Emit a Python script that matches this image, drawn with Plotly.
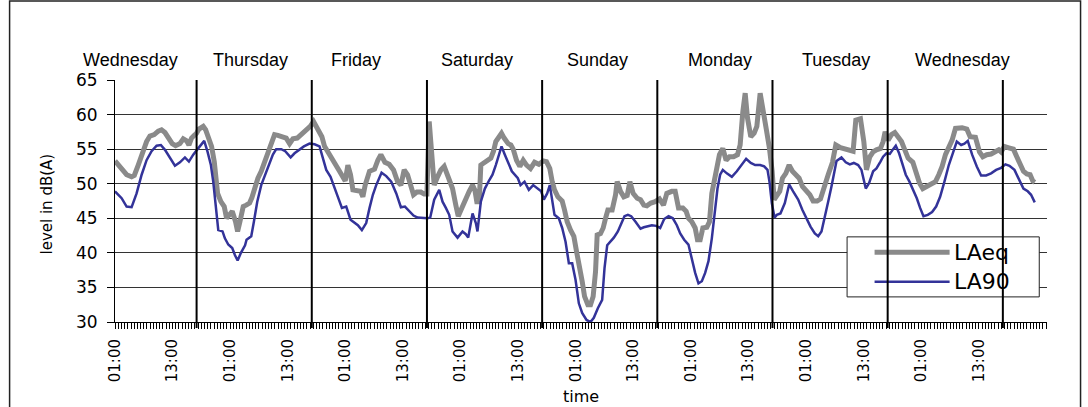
import plotly.graph_objects as go

# ---------------- data (hours since Wednesday 01:00, level in dB(A)) ----------------
laeq_hours = [
    0, 1.38, 2.42, 3.46, 4.02, 4.84, 5.89, 6.58, 7.27, 8.18, 9.01, 9.70, 10.41, 11.10, 11.92, 12.63, 13.53,
    14.22, 14.92, 15.40, 15.95, 16.52, 17.00, 17.49, 18.38, 18.88, 19.43, 20.12, 20.68, 21.38, 22.07, 22.76,
    23.25, 23.95, 24.43, 25.12, 25.55, 26.03, 26.72,
    27.34, 28.04, 28.53, 29.08, 29.78, 30.47, 31.16, 32.01, 32.70, 33.25, 33.94, 34.99, 35.68, 36.38, 37.07,
    37.97, 38.67, 39.36, 40.19, 40.68, 41.37, 41.92, 42.62, 43.11, 43.66, 44.36, 45.20, 46.10, 46.79, 47.49,
    47.97, 48.52, 49.08, 49.57, 50.47, 51.16, 51.65, 52.13, 53.03, 54.08, 54.77,
    55.40, 56.24, 57.14, 58.04, 58.88, 59.57, 60.26, 60.96, 61.65, 62.20, 62.90, 63.73, 64.43, 64.99, 65.47,
    65.96, 66.51, 67.21, 67.90, 68.59, 69.64, 70.33, 71.02, 71.52, 72.41, 73.10, 73.81, 74.50, 74.98, 75.39,
    75.89, 76.23, 76.93, 77.62, 78.32, 78.87, 79.35, 80.05, 80.54, 81.09, 81.92, 82.48,
    82.97, 83.66, 84.35, 85.06, 85.75, 86.58, 87.42, 88.32, 89.23, 89.91, 90.60, 91.10, 91.58, 92.28, 93.18,
    93.67, 94.22, 94.91, 95.61, 96.17, 96.86, 97.34, 97.84, 98.53, 99.08, 99.63, 100.13, 100.47, 101.16,
    101.72, 102.21, 102.70, 103.59, 104.30, 104.64, 105.33, 106.02, 106.73, 107.28, 107.97, 108.81, 109.50,
    110.19,
    110.82, 111.65, 112.55, 113.46, 114.29, 114.98, 116.03, 116.72, 117.42, 118.32, 119.01, 119.49, 120.19,
    120.89, 121.37, 121.93, 122.49, 123.32, 123.87, 124.36, 124.85, 125.40, 125.95, 126.65, 127.34, 128.04,
    128.88, 129.71, 130.26, 130.82, 131.31, 131.79, 132.48, 133.18, 133.74, 134.43, 134.99, 135.68, 136.37,
    136.93, 137.35, 137.90,
    138.52, 139.08, 139.78, 140.47, 141.16, 141.86, 142.55, 143.24, 144.08, 144.78, 145.47, 146.31, 147.00,
    147.69, 148.60, 149.50, 150.19, 151.17, 152.07, 153.11, 153.80, 154.36, 155.33, 156.03, 156.58, 157.28,
    157.97, 158.66, 159.50, 160.05, 160.47, 161.09, 161.79, 162.49, 163.18, 163.88, 164.57, 165.26,
    166.24, 166.93, 167.63, 168.32, 169.15, 170.05, 170.96, 171.65, 172.35, 173.04, 173.74, 174.43, 175.13,
    175.82, 176.51, 177.49, 178.18, 179.29, 180.13, 180.82, 181.65, 182.55, 183.46, 184.15, 184.63, 185.33,
    186.24, 187.21, 187.90, 188.60, 189.29, 189.99, 190.68, 191.24, 191.65,
]
laeq_db = [
    53.3, 52.0, 51.3, 51.0, 51.2, 52.7, 54.9, 56.1, 56.9, 57.1, 57.6, 57.8, 57.4, 56.8, 55.8, 55.5, 55.8,
    56.5, 56.2, 55.6, 56.6, 57.0, 57.3, 57.9, 58.3, 57.8, 56.8, 55.4, 53.2, 48.6, 47.4, 46.7,
    45.0, 45.6, 46.0, 44.5, 43.1, 44.5, 46.7,
    46.9, 47.2, 48.0, 49.3, 50.8, 51.8, 53.1, 54.6, 56.1, 57.1, 57.0, 56.8, 56.6, 55.8, 56.5,
    56.6, 57.0, 57.5, 57.9, 58.3, 59.0, 58.3, 57.6, 56.8, 55.4, 54.5, 53.4, 52.6, 51.8, 51.0,
    50.4, 52.7, 51.3, 49.1, 49.0, 48.9, 48.1, 49.8, 51.8, 52.1, 53.4,
    54.2, 53.1, 52.8, 52.0, 50.3, 49.8, 52.0, 51.3, 49.8, 48.4, 48.8, 48.8, 48.5, 48.5, 59.0,
    55.4, 49.8, 51.0, 52.0, 52.5, 50.8, 49.3, 46.9, 45.3, 46.7, 47.9, 48.9, 49.8, 49.1, 47.4,
    47.4, 52.7, 53.1, 53.3, 53.7, 54.7, 56.1, 56.8, 57.3, 56.6, 55.8, 55.6,
    55.0, 53.4, 52.5, 53.4, 52.7, 52.2, 53.1, 52.8, 53.3, 53.2, 52.2, 50.3, 49.1, 48.1, 47.5,
    46.2, 44.5, 43.3, 42.4, 40.2, 38.0, 35.9, 33.7, 32.5, 32.5, 33.7, 37.3, 42.6, 42.8,
    43.6, 45.0, 46.2, 46.2, 48.4, 50.3, 48.9, 48.1, 48.3, 50.3, 48.6, 47.9, 47.7,
    46.9,
    46.8, 47.2, 47.4, 47.8, 46.9, 48.6, 48.9, 48.9, 46.5, 46.5, 46.0, 45.0, 44.5,
    43.6, 41.9, 41.9, 43.6, 43.7, 44.5, 48.6, 50.3, 52.7, 54.2, 55.1, 53.4, 53.9,
    53.9, 54.2, 55.6, 60.4, 63.1, 59.5, 56.8, 57.3, 58.3, 63.1, 61.1, 58.0, 55.1,
    51.8, 47.7, 48.4,
    48.9, 50.8, 51.5, 52.7, 51.8, 51.3, 50.8, 49.6, 49.0, 48.4, 47.5, 47.5, 47.8,
    49.1, 51.3, 53.1, 55.6, 55.2, 55.0, 54.9, 54.7, 59.2, 59.4, 56.1, 52.0, 53.9,
    54.6, 54.9, 55.1, 56.1, 57.5, 56.3, 57.1, 57.4, 56.8, 56.1, 54.9, 53.7,
    53.1, 51.5, 50.1, 49.3, 49.6, 49.8, 50.3, 51.3, 52.5, 54.2, 55.4, 56.3, 58.0,
    58.0, 58.1, 57.9, 56.8, 56.7, 54.6, 53.9, 54.2, 54.3, 54.6, 54.9, 54.6, 55.4,
    55.2, 55.0, 53.9, 52.6, 51.8, 51.4, 51.3, 50.4, 50.2,
]

la90_hours = [
    0, 1.38, 2.42, 3.46, 4.50, 5.55, 6.58, 7.62, 8.67, 9.56, 10.41, 11.44, 12.49, 13.53, 14.57, 15.40, 16.30,
    17.21, 18.04, 18.59, 19.29, 19.98, 20.47, 20.96, 21.52, 22.41, 22.90, 23.60, 24.43, 24.98, 25.55, 26.24,
    27.10, 27.41,
    28.39, 28.94, 29.64, 30.47, 31.30, 32.21, 32.90, 33.59, 34.64, 35.47, 36.60, 37.41, 38.46, 39.36, 40.54,
    41.58, 42.62, 43.32, 44.02, 44.91, 45.61, 46.44, 47.28, 48.18, 49.08, 49.91, 50.60, 51.44, 52.34, 53.04,
    53.73, 54.43, 55.12,
    55.54, 56.52, 57.56, 58.61, 59.57, 60.41, 61.31, 62.20, 63.04, 64.08, 65.13, 65.68, 66.51, 67.56, 68.25,
    68.94, 69.64, 70.33, 71.38, 72.41, 73.10, 73.60, 74.50, 75.19, 75.53, 76.23, 77.07, 77.97, 78.66, 79.35,
    79.84, 80.54, 81.23, 81.92, 82.69,
    83.94, 84.50, 85.33, 86.23, 87.14, 87.97, 88.80, 89.36, 90.05, 90.60, 91.10, 91.58, 92.48, 93.18, 93.88,
    94.57, 95.26, 95.96, 96.65, 97.34, 98.25, 99.08, 99.77, 100.61, 101.51, 102.00, 102.56, 103.25, 103.94,
    104.78, 105.47, 106.16, 106.87, 107.56, 108.46, 109.50, 110.19,
    110.96, 111.86, 112.76, 113.60, 114.43, 115.34, 116.24, 117.07, 117.77, 118.60, 119.49, 120.19, 120.89,
    121.58, 122.28, 122.97, 123.66, 124.36, 125.05, 125.54, 126.09, 126.65, 127.48, 128.53, 129.57, 130.62,
    131.51, 132.48, 133.39, 134.43, 135.27, 135.96, 136.37, 136.86, 137.42, 137.90,
    138.66, 139.57, 140.47, 141.30, 142.35, 143.24, 144.08, 144.92, 145.82, 146.52, 147.21, 147.90, 148.60,
    149.29, 149.78, 150.34, 151.37, 152.27, 153.11, 153.94, 154.85, 155.54, 156.44, 157.14, 157.97, 158.66,
    159.50, 160.05, 160.74, 161.45, 162.14, 162.69, 163.38, 164.08, 164.77,
    165.54, 166.24, 167.07, 167.76, 168.46, 169.36, 170.26, 171.10, 171.93, 172.83, 173.74, 174.57, 175.40,
    176.31, 177.00, 177.69, 178.60, 179.57, 180.47, 181.51, 182.55, 183.60, 184.64, 185.54, 186.38, 187.42,
    188.32, 189.29, 190.19, 190.88, 191.65,
]
la90_db = [
    48.9, 47.9, 46.7, 46.6, 48.6, 51.3, 53.4, 54.7, 55.5, 55.6, 54.9, 53.7, 52.6, 53.1, 53.8, 53.2, 54.2,
    55.0, 55.8, 56.2, 54.6, 52.7, 50.3, 46.5, 43.3, 43.1, 42.1, 41.2, 40.7, 39.7, 38.9, 40.0,
    41.1, 41.9,
    42.4, 44.5, 47.4, 49.8, 51.3, 52.8, 54.2, 55.0, 55.0, 54.7, 53.8, 54.4, 54.9, 55.4, 55.8,
    55.7, 55.4, 53.7, 52.0, 51.0, 49.8, 48.1, 46.5, 46.7, 44.8, 44.3, 44.0, 43.3, 44.3, 46.5,
    48.4, 49.8, 51.0,
    51.6, 51.1, 50.3, 48.6, 46.6, 46.7, 46.0, 45.4, 45.1, 45.0, 45.0, 45.1, 47.7, 49.1, 47.4,
    46.5, 45.5, 43.1, 42.2, 43.1, 42.7, 42.2, 45.7, 44.3, 43.1, 47.4, 49.3, 50.5, 51.3, 52.7,
    53.9, 55.4, 54.2, 53.0, 51.8,
    50.8, 49.8, 50.3, 49.1, 49.8, 49.3, 48.9, 47.7, 48.6, 49.8, 47.7, 45.5, 45.0, 43.6, 41.6,
    38.5, 38.5, 36.1, 32.7, 31.3, 30.3, 30.0, 30.6, 32.0, 33.2, 37.8, 41.1, 41.6, 42.2,
    43.1, 44.1, 45.3, 45.5, 45.3, 44.5, 43.5, 43.7,
    43.8, 44.0, 43.9, 43.6, 44.9, 45.3, 45.0, 44.0, 42.8, 41.9, 41.2, 39.0, 37.1,
    35.6, 35.9, 37.1, 38.8, 42.1, 46.5, 49.3, 51.3, 52.0, 51.5, 51.0, 51.8, 52.7,
    53.6, 53.0, 52.7, 52.7, 52.5, 52.0, 50.3, 47.2, 45.1, 45.5,
    45.7, 47.2, 49.9, 48.9, 47.7, 46.2, 45.0, 43.8, 42.8, 42.4, 43.1, 45.5, 47.4,
    49.6, 51.3, 53.3, 53.8, 53.1, 52.8, 53.0, 52.7, 52.0, 49.3, 50.1, 51.8, 52.2,
    53.2, 53.9, 54.4, 54.3, 55.0, 55.5, 54.4, 53.0, 51.3,
    50.3, 49.3, 47.9, 46.5, 45.3, 45.5, 45.9, 46.7, 48.1, 50.3, 52.7, 54.4, 56.1,
    55.6, 55.8, 56.2, 54.2, 52.5, 51.2, 51.2, 51.5, 52.0, 52.3, 52.8, 52.6, 52.0,
    50.7, 49.3, 48.9, 48.4, 47.3,
]

assert len(laeq_hours) == len(laeq_db)
assert len(la90_hours) == len(la90_db)

tick_hours = [0, 12, 24, 36, 48, 60, 72, 84, 96, 108, 120, 132, 144, 156, 168, 180]
tick_text = ["01:00", "13:00"] * 8

day_names = ["Wednesday", "Thursday", "Friday", "Saturday", "Sunday", "Monday", "Tuesday", "Wednesday"]
day_label_hours = [3.3, 28.3, 50.3, 75.4, 100.6, 126.1, 150.2, 176.5]
day_boundary_hours = [17, 41, 65, 89, 113, 137, 161, 185]

series_names = ["LAeq", "LA90"]
series_colors = ["#8a8a8a", "#333399"]
series_widths = [5, 2.5]

# ---------------- figure ----------------
fig = go.Figure()
fig.add_trace(go.Scatter(x=laeq_hours, y=laeq_db, mode="lines", name=series_names[0],
                         line=dict(color=series_colors[0], width=series_widths[0]),
                         showlegend=False))
fig.add_trace(go.Scatter(x=la90_hours, y=la90_db, mode="lines", name=series_names[1],
                         line=dict(color=series_colors[1], width=series_widths[1]),
                         showlegend=False))

shapes = []
# outer chart frame
shapes.append(dict(type="rect", xref="paper", yref="paper", x0=-0.1131, x1=1.036, y0=-0.36, y1=1.326,
                   line=dict(color="#222", width=1.5), layer="below"))
# legend box (drawn manually so the day separators cross it as in the original)
leg_x0, leg_x1, leg_y0, leg_y1 = 0.7855, 0.9917, 0.1037, 0.3518
shapes.append(dict(type="rect", xref="paper", yref="paper", x0=leg_x0, x1=leg_x1, y0=leg_y0, y1=leg_y1,
                   line=dict(color="#222", width=1), fillcolor="white", layer="above"))
legend_rows_y = [0.2885, 0.1660]
for name, color, w, yy in zip(series_names, series_colors, series_widths, legend_rows_y):
    shapes.append(dict(type="line", xref="paper", yref="paper", x0=0.815, x1=0.8955, y0=yy, y1=yy,
                       line=dict(color=color, width=w), layer="above"))
# day separators
for h in day_boundary_hours:
    shapes.append(dict(type="line", xref="x", yref="paper", x0=h, x1=h, y0=-0.025, y1=1,
                       line=dict(color="black", width=2), layer="above"))

annotations = []
for name, h in zip(day_names, day_label_hours):
    annotations.append(dict(x=h, y=1.083, xref="x", yref="paper", text=name, showarrow=False,
                            xanchor="center", yanchor="middle",
                            font=dict(family="Liberation Sans", size=18, color="black")))
for name, yy in zip(series_names, legend_rows_y):
    annotations.append(dict(x=0.8985, y=yy, xref="paper", yref="paper", text=name, showarrow=False,
                            xanchor="left", yanchor="middle",
                            font=dict(family="DejaVu Sans", size=22, color="black")))
annotations.append(dict(x=-0.0734, y=0.488, xref="paper", yref="paper", text="level in dB(A)",
                        showarrow=False, textangle=-90, xanchor="center", yanchor="middle",
                        font=dict(family="DejaVu Sans", size=15, color="black")))
annotations.append(dict(x=0.4999, y=-0.309, xref="paper", yref="paper", text="time",
                        showarrow=False, xanchor="center", yanchor="middle",
                        font=dict(family="DejaVu Sans", size=16, color="black")))

fig.update_layout(
    width=1088, height=407,
    margin=dict(l=115, r=41, t=80, b=85, pad=0),
    paper_bgcolor="white", plot_bgcolor="white",
    font=dict(family="DejaVu Sans", color="black"),
    shapes=shapes, annotations=annotations,
    showlegend=False,
    xaxis=dict(range=[0, 194.2], tickmode="array", tickvals=tick_hours, ticktext=tick_text,
               tickangle=-90, ticks="outside", ticklen=6, tickcolor="black", tickwidth=1,
               showline=True, linecolor="black", linewidth=1, showgrid=False, zeroline=False,
               tickfont=dict(family="DejaVu Sans", size=15, color="black"), ticklabelstandoff=4,
               minor=dict(ticks="outside", ticklen=6, tickcolor="black", tickwidth=1,
                          tickmode="linear", tick0=0, dtick=2 / 3, showgrid=False)),
    yaxis=dict(range=[30, 65], tickmode="linear", tick0=30, dtick=5, ticks="outside", ticklen=7,
               tickcolor="black", showline=True, linecolor="black", linewidth=1,
               showgrid=True, gridcolor="#333333", gridwidth=1, zeroline=False,
               tickfont=dict(family="DejaVu Sans", size=17, color="black"), ticklabelstandoff=6),
)

fig.write_html("out.html",
               config={"displayModeBar": False},
               post_script="document.body.style.margin='0px';document.body.style.overflow='hidden';")
